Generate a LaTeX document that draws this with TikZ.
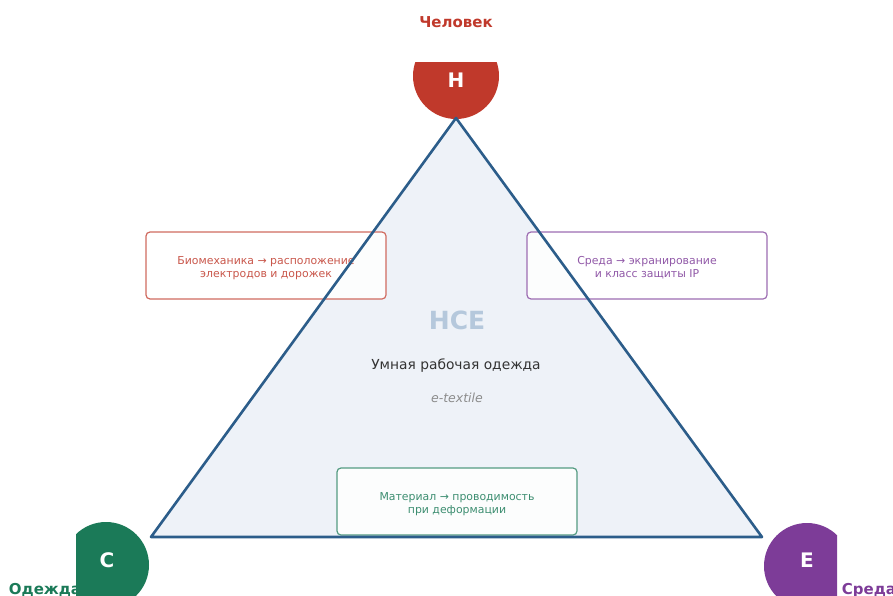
\documentclass[tikz,border=0pt]{standalone}
\usepackage{fontspec}
\setmainfont{DejaVu Sans}
\begin{document}
\definecolor{hred}{HTML}{C0392B}
\definecolor{cgreen}{HTML}{1B7A58}
\definecolor{epurple}{HTML}{7D3C98}
\definecolor{edge}{HTML}{2C5D8A}
\definecolor{inner}{HTML}{EEF2F8}
\definecolor{hcegray}{HTML}{B5C8DC}
\begin{tikzpicture}[x=1pt,y=-1pt,
  vertex/.style={circle,minimum size=86pt,inner sep=0pt},
  letter/.style={text=white,font=\bfseries\fontsize{20}{20}\selectfont},
  tag/.style={font=\bfseries\fontsize{15}{15}\selectfont},
  note/.style={draw=#1!75!white,line width=1.2pt,rounded corners=4pt,fill=white,fill opacity=0.85,text opacity=1,
    minimum width=240pt,minimum height=67pt,align=center,text=#1!85!white,font=\fontsize{10.9}{13}\selectfont}]
\useasboundingbox (0,0) rectangle (893,596);
% triangle area
\coordinate (top) at (456,118);
\coordinate (left) at (151,537);
\coordinate (right) at (762,537);
\fill[inner] (top) -- (left) -- (right) -- cycle;
% corner discs, cut by the plot frame
\begin{scope}
\clip (76,63) rectangle (837,596);
\node[vertex,fill=hred] (H) at (456,76) {};
\node[vertex,fill=cgreen] (C) at (106,565) {};
\node[vertex,fill=epurple] (E) at (807,566) {};
\end{scope}
\node[letter] (Hl) at (456,80) {H};
\node[letter] (Cl) at (107,560) {C};
\node[letter] (El) at (807,560) {E};
% corner captions
\node[tag,text=hred] (Hlab) at (456,22) {Человек};
\node[tag,text=cgreen] (Clab) at (45,590) {Одежда};
\node[tag,text=epurple] (Elab) at (869,590) {Среда};
% side notes
\node[note=hred] (bio) at (266,265.5) {\strut\\[-9pt]Биомеханика → расположение\\электродов и дорожек};
\node[note=epurple] (env) at (647,265.5) {\strut\\[-9pt]Среда → экранирование\\и класс защиты IP};
\node[note=cgreen] (mat) at (457,501.5) {\strut\\[-9pt]Материал → проводимость\\при деформации};
% triangle outline
\draw[edge,line width=2.6pt,line join=round] (top) -- (left) -- (right) -- cycle;
% centre labels
\node[text=hcegray,font=\bfseries\fontsize{25}{25}\selectfont] (hce) at (457,320) {HCE};
\node[text=black!80,font=\fontsize{13.8}{14}\selectfont] (title) at (456,365.5) {Умная рабочая одежда};
\node[text=black!45,font=\itshape\fontsize{12.5}{13}\selectfont] (sub) at (457,398) {e-textile};
\end{tikzpicture}
\end{document}
